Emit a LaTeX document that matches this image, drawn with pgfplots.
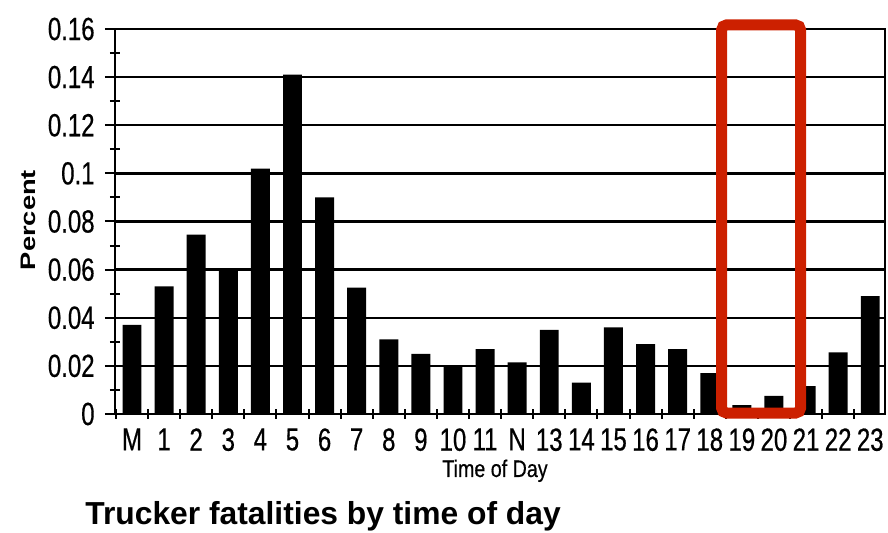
\documentclass[border=0pt]{standalone}
\usepackage{fontspec}
\setmainfont{Liberation Sans}
\newfontfamily\narrow[FakeStretch=0.75,FakeBold=0.5]{Liberation Sans}
\newfontfamily\narrowb[FakeStretch=0.82,FakeBold=0.4]{Liberation Sans}
\newfontfamily\widefont[FakeStretch=1.3]{Liberation Sans}
\usepackage{pgfplots}
\pgfplotsset{compat=1.18}
\definecolor{boxred}{RGB}{204,32,0}
\begin{document}
\begin{tikzpicture}[x=1pt,y=1pt]
\useasboundingbox (-57.5,-59.5) rectangle (386.5,207);
\begin{axis}[
  at={(0,0)}, anchor=south west,
  width=385pt, height=192.5pt, scale only axis,
  xmin=-0.53, xmax=23.46, ymin=0, ymax=0.16,
  ybar, bar width=0.59,
  clip=false,
  axis line style={line width=1.4pt},
  ytick={0,0.02,0.04,0.06,0.08,0.1,0.12,0.14,0.16},
  yticklabels={0,0.02,0.04,0.06,0.08,0.1,0.12,0.14,0.16},
  minor ytick={0.01,0.03,0.05,0.07,0.09,0.11,0.13,0.15},
  xtick={0,1,2,3,4,5,6,7,8,9,10,11,12,13,14,15,16,17,18,19,20,21,22,23},
  xticklabels={M,1,2,3,4,5,6,7,8,9,10,11,N,13,14,15,16,17,18,19,20,21,22,23},
  minor xtick={-0.5,0.5,1.5,2.5,3.5,4.5,5.5,6.5,7.5,8.5,9.5,10.5,11.5,12.5,13.5,14.5,15.5,16.5,17.5,18.5,19.5,20.5,21.5,22.5},
  every major x tick/.append style={draw=none},
  xtick pos=bottom, ytick pos=left,
  tick align=center,
  major tick length=10pt,
  minor tick length=5pt,
  tick style={black, line width=1pt},
  ymajorgrids,
  major grid style={black, line width=1.2pt},
  yticklabel style={font=\narrow\fontsize{16}{16}\selectfont, anchor=east, inner sep=0pt, xshift=-5pt},
  xticklabel style={font=\narrow\fontsize{16}{16}\selectfont, anchor=north, inner sep=0pt, yshift=-2pt},
]
\addplot[fill=black, draw=none] coordinates {
(0,0.037) (1,0.053) (2,0.0745) (3,0.060) (4,0.102) (5,0.141)
(6,0.090) (7,0.0525) (8,0.031) (9,0.025) (10,0.020) (11,0.027)
(12,0.0215) (13,0.035) (14,0.013) (15,0.036) (16,0.029) (17,0.027)
(18,0.017) (19,0.0037) (20,0.0075) (21,0.0116) (22,0.0256) (23,0.049)
};
\draw[boxred, line width=5.5pt, rounded corners=2.5pt] (axis cs:18.37,0.0004) rectangle (axis cs:20.83,0.1617);
\end{axis}
\node[rotate=90, font=\widefont\bfseries\fontsize{10.5}{10.5}\selectfont] at (-43.5,97) {Percent};
\node[anchor=base, font=\narrowb\fontsize{12}{12}\selectfont] at (190,-31.5) {Time of Day};
\node[anchor=base west, inner sep=0pt, font=\bfseries\fontsize{15.9}{15.9}\selectfont] at (-15,-55.5) {Trucker fatalities by time of day};
\end{tikzpicture}
\end{document}
